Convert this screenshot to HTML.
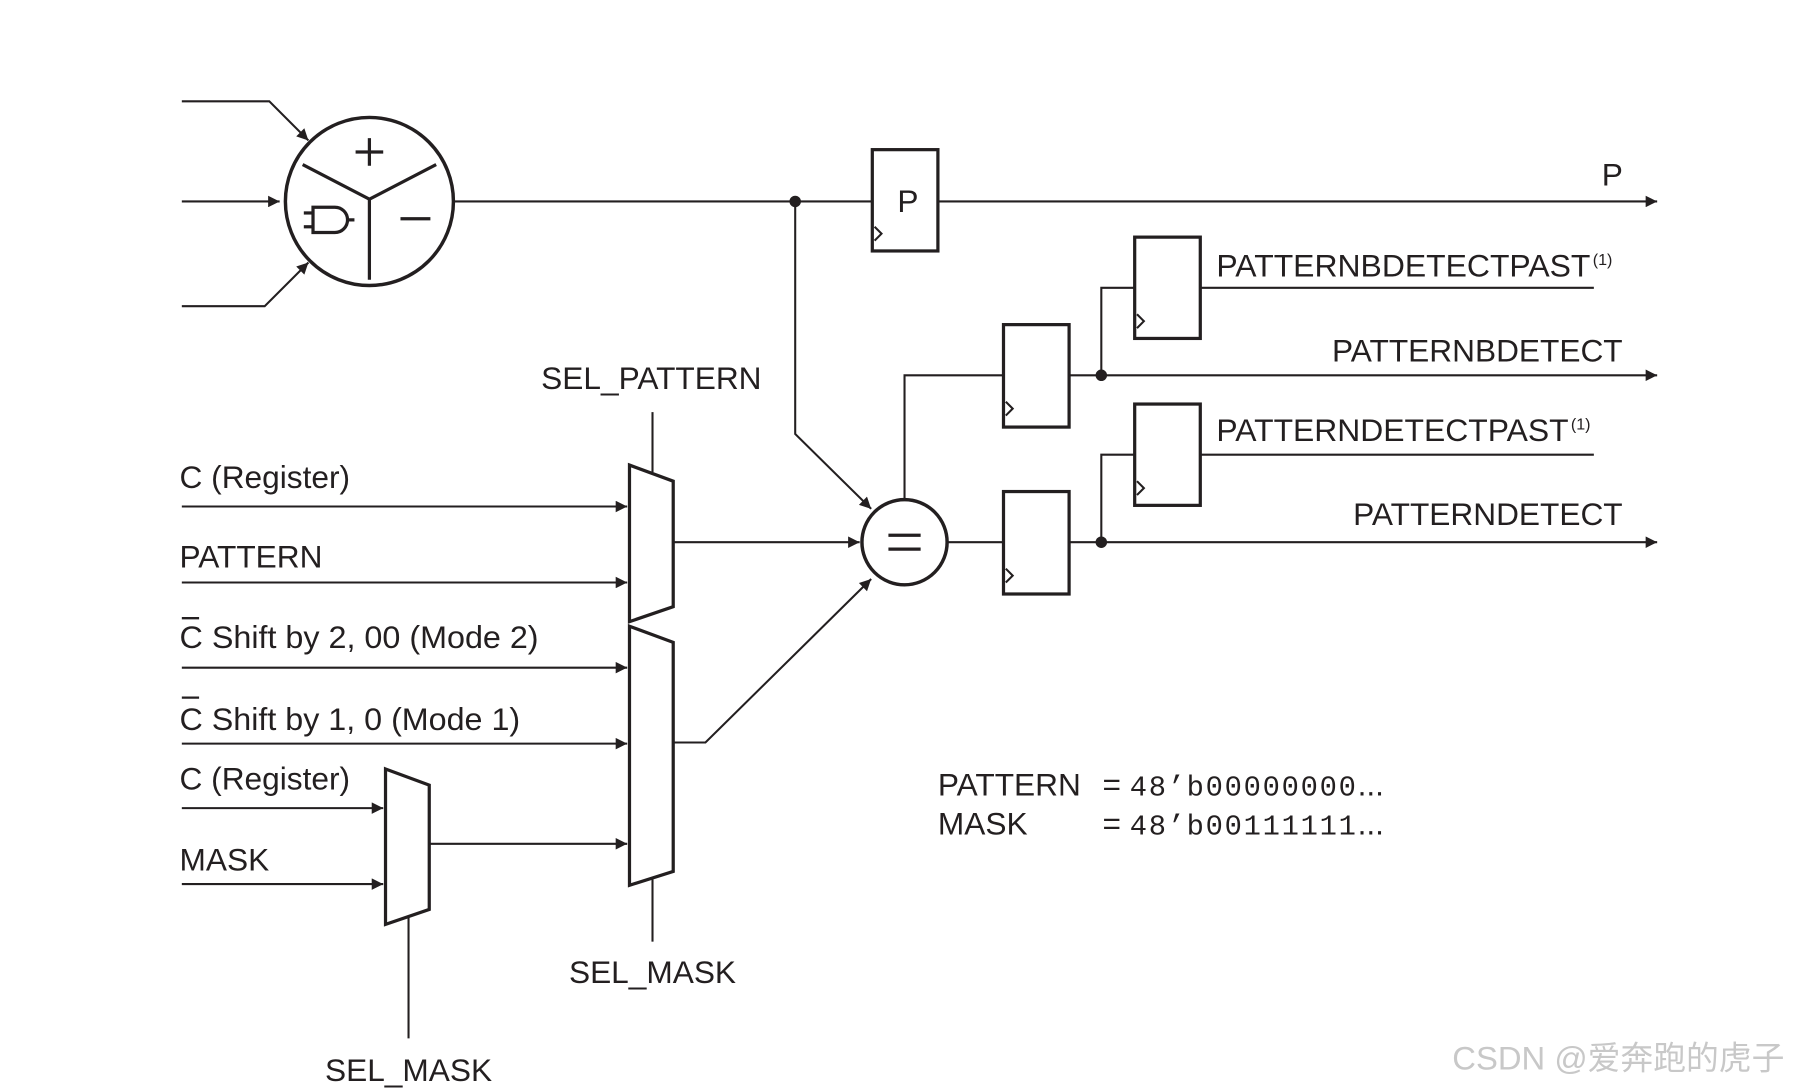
<!DOCTYPE html>
<html><head><style>
html,body{margin:0;padding:0;background:#fff;}
svg{display:block;}
text{font-family:"Liberation Sans",Arial,sans-serif;fill:#231f20;}
</style></head><body>
<svg width="1801" height="1089" viewBox="0 0 1565 946" preserveAspectRatio="none" xmlns="http://www.w3.org/2000/svg">
<defs>
<marker id="a" viewBox="0 0 10 10" refX="10" refY="5" markerWidth="14" markerHeight="10" markerUnits="userSpaceOnUse" orient="auto"><path d="M0,0 L10,5 L0,10 z" fill="#231f20"/></marker>
</defs>
<g stroke="#231f20" fill="none" stroke-width="1.8">
<polyline points="158,88 234,88 268,122" marker-end="url(#a)"/>
<line x1="158" y1="175" x2="243" y2="175" marker-end="url(#a)"/>
<polyline points="158,266 230,266 268,228" marker-end="url(#a)"/>
<circle cx="321" cy="175" r="73" stroke-width="3"/>
<g stroke-width="2.8">
<polyline points="263,143 321,173 379,143"/>
<line x1="321" y1="173" x2="321" y2="243"/>
<line x1="309" y1="132" x2="333" y2="132"/><line x1="321" y1="120" x2="321" y2="144"/>
<line x1="348" y1="190" x2="374" y2="190"/>
<path d="M272,180 H291 A11,11 0 0 1 291,202 H272 Z"/>
<line x1="264" y1="185" x2="272" y2="185"/><line x1="264" y1="197" x2="272" y2="197"/>
<line x1="302" y1="191" x2="308" y2="191"/>
</g>
<line x1="395" y1="175" x2="758" y2="175"/>
<line x1="815" y1="175" x2="1440" y2="175" marker-end="url(#a)"/>
<rect x="758" y="130" width="57" height="88" stroke-width="2.8"/>
<polyline points="760,197 766,203 760,209"/>
<polyline points="691,175 691,377 757,442" marker-end="url(#a)"/>
<polygon points="547,404 585,418 585,527 547,540" stroke-width="2.8"/>
<polygon points="547,544 585,558 585,757 547,769" stroke-width="2.8"/>
<polygon points="335,668 373,682 373,790 335,803" stroke-width="2.8"/>
<line x1="567" y1="358" x2="567" y2="410"/>
<line x1="567" y1="764" x2="567" y2="818"/>
<line x1="355" y1="797" x2="355" y2="902"/>
<line x1="158" y1="440" x2="545" y2="440" marker-end="url(#a)"/>
<line x1="158" y1="506" x2="545" y2="506" marker-end="url(#a)"/>
<line x1="158" y1="580" x2="545" y2="580" marker-end="url(#a)"/>
<line x1="158" y1="646" x2="545" y2="646" marker-end="url(#a)"/>
<line x1="158" y1="702" x2="333" y2="702" marker-end="url(#a)"/>
<line x1="158" y1="768" x2="333" y2="768" marker-end="url(#a)"/>
<line x1="373" y1="733" x2="545" y2="733" marker-end="url(#a)"/>
<line x1="585" y1="471" x2="747" y2="471" marker-end="url(#a)"/>
<polyline points="585,645 613,645 757,503" marker-end="url(#a)"/>
<circle cx="786" cy="471" r="37" stroke-width="3"/>
<line x1="772" y1="465" x2="800" y2="465" stroke-width="2.8"/>
<line x1="772" y1="477" x2="800" y2="477" stroke-width="2.8"/>
<polyline points="786,434 786,326 872,326"/>
<line x1="823" y1="471" x2="872" y2="471"/>
<rect x="872" y="282" width="57" height="89" stroke-width="2.8"/>
<rect x="872" y="427" width="57" height="89" stroke-width="2.8"/>
<polyline points="874,349 880,355 874,361"/>
<polyline points="874,494 880,500 874,506"/>
<line x1="929" y1="326" x2="1440" y2="326" marker-end="url(#a)"/>
<line x1="929" y1="471" x2="1440" y2="471" marker-end="url(#a)"/>
<polyline points="957,326 957,250 986,250"/>
<polyline points="957,471 957,395 986,395"/>
<rect x="986" y="206" width="57" height="88" stroke-width="2.8"/>
<rect x="986" y="351" width="57" height="88" stroke-width="2.8"/>
<polyline points="988,273 994,279 988,285"/>
<polyline points="988,418 994,424 988,430"/>
<line x1="1043" y1="250" x2="1385" y2="250"/>
<line x1="1043" y1="395" x2="1385" y2="395"/>
<line x1="158" y1="537" x2="173" y2="537" stroke-width="2"/>
<line x1="158" y1="606" x2="173" y2="606" stroke-width="2"/>
</g>
<g fill="#231f20">
<circle cx="691" cy="175" r="5"/>
<circle cx="957" cy="326" r="5"/>
<circle cx="957" cy="471" r="5"/>
</g>
<g font-size="27.5">
<text x="789" y="184" text-anchor="middle">P</text>
<text x="1401" y="161" text-anchor="middle">P</text>
<text x="1057" y="240" textLength="325" lengthAdjust="spacingAndGlyphs">PATTERNBDETECTPAST</text><text x="1384" y="230" font-size="14">(1)</text>
<text x="1410" y="314" text-anchor="end">PATTERNBDETECT</text>
<text x="1057" y="383" textLength="306" lengthAdjust="spacingAndGlyphs">PATTERNDETECTPAST</text><text x="1365" y="373" font-size="14">(1)</text>
<text x="1410" y="456" text-anchor="end">PATTERNDETECT</text>
<text x="566" y="338" text-anchor="middle">SEL_PATTERN</text>
<text x="156" y="424">C (Register)</text>
<text x="156" y="493">PATTERN</text>
<text x="156" y="563" textLength="312" lengthAdjust="spacingAndGlyphs">C Shift by 2, 00 (Mode 2)</text>
<text x="156" y="634" textLength="296" lengthAdjust="spacingAndGlyphs">C Shift by 1, 0 (Mode 1)</text>
<text x="156" y="686">C (Register)</text>
<text x="156" y="756">MASK</text>
<text x="567" y="854" text-anchor="middle">SEL_MASK</text>
<text x="355" y="939" text-anchor="middle">SEL_MASK</text>
<text x="815" y="691">PATTERN</text>
<text x="815" y="725">MASK</text>
<text x="958" y="691">= <tspan font-family="Liberation Mono, monospace" font-size="25" letter-spacing="1.5">48’b00000000</tspan>...</text>
<text x="958" y="725">= <tspan font-family="Liberation Mono, monospace" font-size="25" letter-spacing="1.5">48’b00111111</tspan>...</text>
<text x="1262" y="929" font-size="28.5" style="fill:#c8c8c8;font-family:'Liberation Sans','Noto Sans CJK SC',sans-serif">CSDN @爱奔跑的虎子</text>
</g>
</svg>
</body></html>
